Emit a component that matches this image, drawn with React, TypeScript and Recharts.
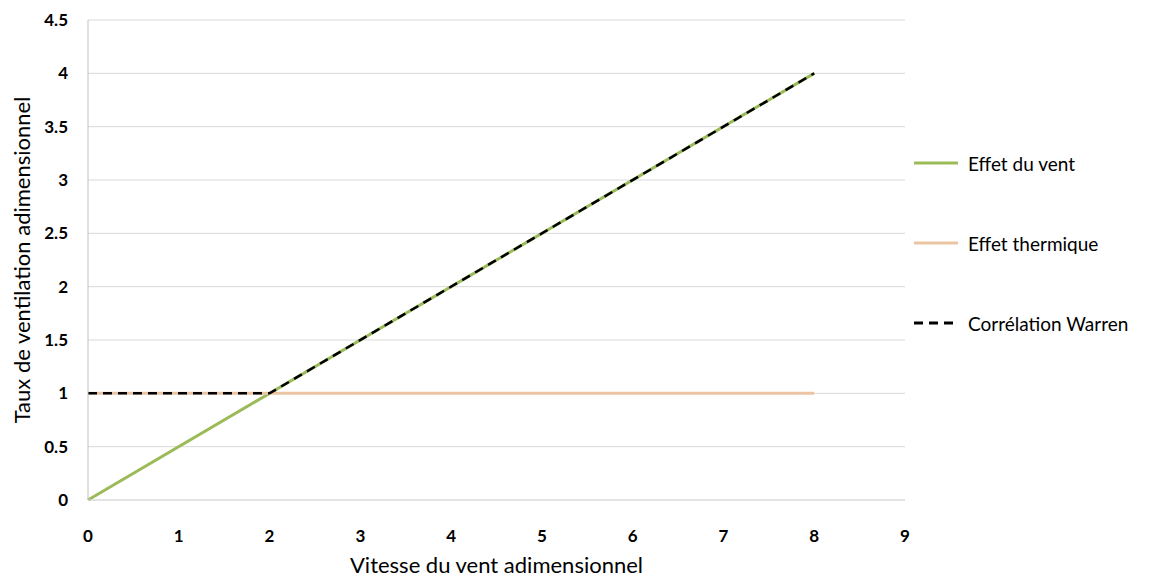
import { LineChart, Line, XAxis, YAxis, CartesianGrid, Label } from "recharts"

const xTicks = [0, 1, 2, 3, 4, 5, 6, 7, 8, 9]
const yTicks = [0, 0.5, 1, 1.5, 2, 2.5, 3, 3.5, 4, 4.5]

const windX = [0, 8]
const windY = [0, 4]
const thermalX = [0, 8]
const thermalY = [1, 1]
const warrenX = [0, 2, 8]
const warrenY = [1, 1, 4]

const wind = windX.map((x, i) => ({ x, y: windY[i] }))
const thermal = thermalX.map((x, i) => ({ x, y: thermalY[i] }))
const warren = warrenX.map((x, i) => ({ x, y: warrenY[i] }))

const font = "Lato, 'Open Sans', sans-serif"

const legendItems = [
  { name: "Effet du vent", color: "#9BBB59", dash: undefined },
  { name: "Effet thermique", color: "#EBC5A3", dash: undefined },
  { name: "Corrélation Warren", color: "#000000", dash: "9 6" },
]

function LegendBox() {
  return (
    <div style={{ position: "absolute", left: 904, top: 115, fontFamily: font, fontSize: 19, color: "#000" }}>
      {legendItems.map((it) => (
        <div key={it.name} style={{ display: "flex", alignItems: "center", height: 80 }}>
          <svg width={50} height={10}>
            <line x1={2} y1={5} x2={46} y2={5} stroke={it.color} strokeWidth={3} strokeDasharray={it.dash} />
          </svg>
          <span style={{ marginLeft: 6 }}>{it.name}</span>
        </div>
      ))}
    </div>
  )
}

export default function App() {
  return (
    <div style={{ position: "relative", width: 1140, height: 570 }}>
      <LineChart width={1140} height={570} margin={{ top: 12, right: 243, bottom: 0, left: 0 }}>
        <CartesianGrid vertical={false} stroke="#D9D9D9" />
        <XAxis
          type="number"
          dataKey="x"
          domain={[0, 9]}
          ticks={xTicks}
          height={78}
          tickLine={false}
          axisLine={{ stroke: "#D9D9D9" }}
          tickMargin={24}
          tick={{ fill: "#000", fontSize: 17, fontWeight: 700, fontFamily: font }}
        >
          <Label value="Vitesse du vent adimensionnel" position="center" dy={26} style={{ fontSize: 22, fontFamily: font, fill: "#000" }} />
        </XAxis>
        <YAxis
          type="number"
          dataKey="y"
          domain={[0, 4.5]}
          ticks={yTicks}
          width={80}
          tickLine={false}
          axisLine={{ stroke: "#BFBFBF" }}
          tickMargin={14}
          tick={{ fill: "#000", fontSize: 17, fontWeight: 700, fontFamily: font }}
        >
          <Label value="Taux de ventilation adimensionnel" angle={-90} position="center" dx={-26} style={{ fontSize: 22, fontFamily: font, fill: "#000", textAnchor: "middle" }} />
        </YAxis>
        <Line data={wind} dataKey="y" name="Effet du vent" stroke="#9BBB59" strokeWidth={3} dot={false} isAnimationActive={false} />
        <Line data={thermal} dataKey="y" name="Effet thermique" stroke="#EBC5A3" strokeWidth={3} dot={false} isAnimationActive={false} />
        <Line data={warren} dataKey="y" name="Corrélation Warren" stroke="#000" strokeWidth={2.5} strokeDasharray="9 6" dot={false} isAnimationActive={false} />
      </LineChart>
      <LegendBox />
    </div>
  )
}
